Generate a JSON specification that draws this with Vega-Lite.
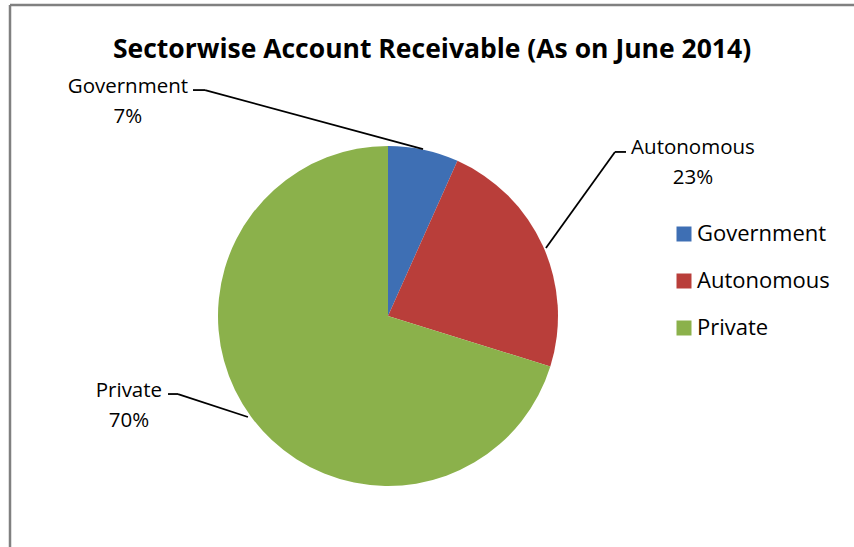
{
  "$schema": "https://vega.github.io/schema/vega-lite/v6.json",
  "width": 844,
  "height": 542,
  "autosize": {"type": "none"},
  "padding": {"left": 10, "top": 5, "right": 0, "bottom": 0},
  "background": "white",
  "title": {
    "text": "Sectorwise Account Receivable (As on June 2014)",
    "font": "Open Sans",
    "fontSize": 26.5,
    "fontWeight": "bold",
    "color": "black",
    "anchor": "middle",
    "frame": "group",
    "offset": -60
  },
  "config": {
    "view": {"stroke": null},
    "legend": {
      "orient": "none",
      "legendX": 663,
      "legendY": 218,
      "symbolType": "square",
      "symbolSize": 225,
      "symbolStrokeWidth": 0,
      "labelFont": "Open Sans",
      "labelFontSize": 22,
      "labelColor": "black",
      "labelOffset": 2,
      "rowPadding": 25,
      "padding": 0
    }
  },
  "data": {
    "values": [
      {"sector": "Government", "value": 6.7},
      {"sector": "Autonomous", "value": 23.1},
      {"sector": "Private", "value": 70.2}
    ]
  },
  "layer": [
    {
      "mark": {"type": "arc", "outerRadius": 170},
      "encoding": {
        "x": {"datum": 0, "type": "quantitative", "scale": {"domain": [-2.2235, 2.7412], "nice": false, "zero": false}, "axis": null},
        "y": {"datum": 0, "type": "quantitative", "scale": {"domain": [-1.3588, 1.8294], "nice": false, "zero": false}, "axis": null},
        "theta": {"field": "value", "type": "quantitative", "stack": true},
        "order": {"field": "value", "sort": "ascending"},
        "color": {
          "field": "sector",
          "type": "nominal",
          "scale": {"domain": ["Government", "Autonomous", "Private"], "range": ["#3e6fb4", "#b93e3a", "#8bb14b"]},
          "legend": {"title": null}
        }
      }
    },
    {
      "data": {"values": [{}]},
      "mark": {"type": "rule", "color": "#808080", "strokeWidth": 2.5},
      "encoding": {"x": {"datum": -2.2235}, "y": {"datum": -1.3588}, "y2": {"datum": 1.8294}}
    },
    {
      "data": {"values": [{}]},
      "mark": {"type": "rule", "color": "#808080", "strokeWidth": 2.5},
      "encoding": {"x": {"datum": -2.2235}, "x2": {"datum": 2.7412}, "y": {"datum": 1.8294}}
    },
    {
      "data": {"values": [{}]},
      "mark": {"type": "rule", "color": "black", "strokeWidth": 1.8},
      "encoding": {"x": {"datum": -1.147}, "y": {"datum": 1.329}, "x2": {"datum": -1.076}, "y2": {"datum": 1.329}}
    },
    {
      "data": {"values": [{}]},
      "mark": {"type": "rule", "color": "black", "strokeWidth": 1.8},
      "encoding": {"x": {"datum": -1.076}, "y": {"datum": 1.329}, "x2": {"datum": 0.206}, "y2": {"datum": 0.982}}
    },
    {
      "data": {"values": [{}]},
      "mark": {"type": "rule", "color": "black", "strokeWidth": 1.8},
      "encoding": {"x": {"datum": 1.335}, "y": {"datum": 0.965}, "x2": {"datum": 1.4}, "y2": {"datum": 0.965}}
    },
    {
      "data": {"values": [{}]},
      "mark": {"type": "rule", "color": "black", "strokeWidth": 1.8},
      "encoding": {"x": {"datum": 1.335}, "y": {"datum": 0.965}, "x2": {"datum": 0.929}, "y2": {"datum": 0.4}}
    },
    {
      "data": {"values": [{}]},
      "mark": {"type": "rule", "color": "black", "strokeWidth": 1.8},
      "encoding": {"x": {"datum": -1.294}, "y": {"datum": -0.459}, "x2": {"datum": -1.235}, "y2": {"datum": -0.459}}
    },
    {
      "data": {"values": [{}]},
      "mark": {"type": "rule", "color": "black", "strokeWidth": 1.8},
      "encoding": {"x": {"datum": -1.235}, "y": {"datum": -0.459}, "x2": {"datum": -0.824}, "y2": {"datum": -0.594}}
    },
    {
      "transform": [
        {"filter": "datum.sector === 'Government'"},
        {"calculate": "datum.sector + '\\n' + format(datum.value, '.0f') + '%'", "as": "label"}
      ],
      "mark": {"type": "text", "lineBreak": "\n", "font": "Open Sans", "fontSize": 20.5, "lineHeight": 30, "align": "center", "baseline": "middle", "color": "black"},
      "encoding": {"x": {"datum": -1.53}, "y": {"datum": 1.347}, "text": {"field": "label", "type": "nominal"}}
    },
    {
      "transform": [
        {"filter": "datum.sector === 'Autonomous'"},
        {"calculate": "datum.sector + '\\n' + format(datum.value, '.0f') + '%'", "as": "label"}
      ],
      "mark": {"type": "text", "lineBreak": "\n", "font": "Open Sans", "fontSize": 20.5, "lineHeight": 30, "align": "center", "baseline": "middle", "color": "black"},
      "encoding": {"x": {"datum": 1.794}, "y": {"datum": 0.991}, "text": {"field": "label", "type": "nominal"}}
    },
    {
      "transform": [
        {"filter": "datum.sector === 'Private'"},
        {"calculate": "datum.sector + '\\n' + format(datum.value, '.0f') + '%'", "as": "label"}
      ],
      "mark": {"type": "text", "lineBreak": "\n", "font": "Open Sans", "fontSize": 20.5, "lineHeight": 30, "align": "center", "baseline": "middle", "color": "black"},
      "encoding": {"x": {"datum": -1.524}, "y": {"datum": -0.441}, "text": {"field": "label", "type": "nominal"}}
    }
  ]
}
